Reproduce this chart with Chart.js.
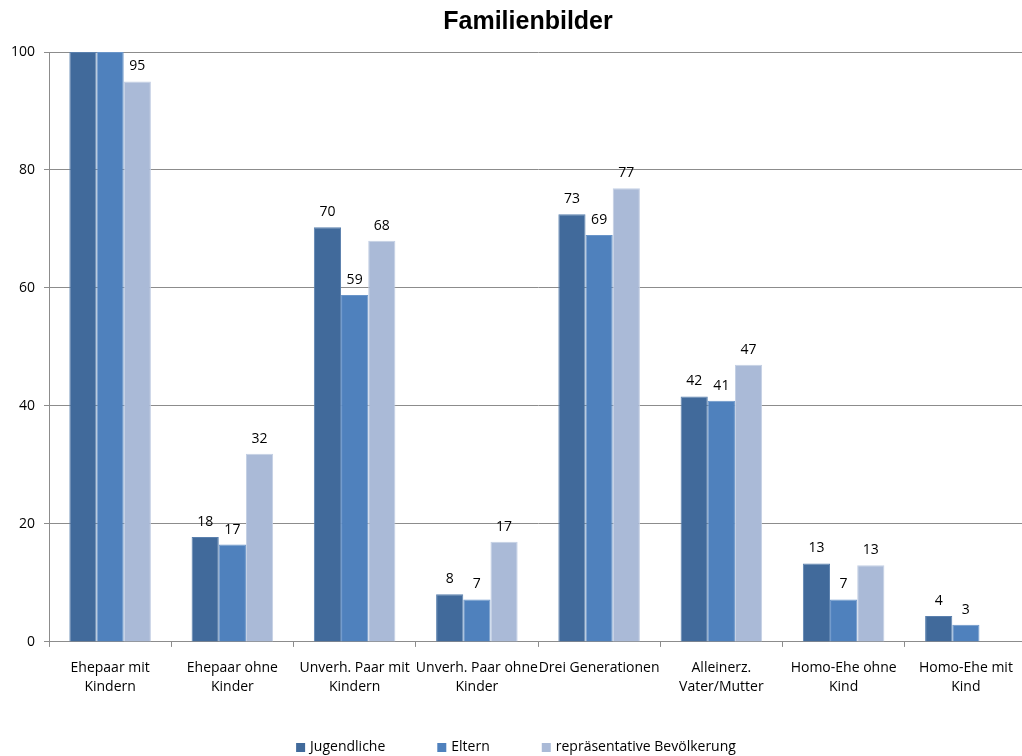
<!doctype html>
<html>

	<head>
		<meta charset="utf-8" />
		<title>Familienbilder</title>

		<style>
			html	{ height: 100% }
			body	{ height: 100%; margin: 0; padding: 0; overflow: hidden; background: #fff }
			canvas	{ display:block; }
		</style>

		<script src="https://cdn.jsdelivr.net/npm/chart.js@4.4.1/dist/chart.umd.min.js"></script>

		<script>

			var categories = [
				['Ehepaar mit', 'Kindern'],
				['Ehepaar ohne', 'Kinder'],
				['Unverh. Paar mit', 'Kindern'],
				['Unverh. Paar ohne', 'Kinder'],
				['Drei Generationen'],
				['Alleinerz.', 'Vater/Mutter'],
				['Homo-Ehe ohne', 'Kind'],
				['Homo-Ehe mit', 'Kind']
			];

			var seriesNames = ['Jugendliche', 'Eltern', 'repräsentative Bevölkerung'];

			var jugendliche = [100, 17.8, 70.3, 8.1, 72.5, 41.6, 13.3, 4.4];
			var eltern = [100, 16.5, 58.8, 7.2, 69.0, 40.9, 7.2, 2.9];
			var bevoelkerung = [95, 31.9, 68.0, 17.0, 76.9, 47.0, 13.0, null];

			var yTicks = [0, 20, 40, 60, 80, 100];

			var labelFont = '14px "Open Sans"';
			var gridColor = '#8c8c8c';

			// value above every bar, rounded like the original sheet
			var valueLabels = {
				id: 'valueLabels',
				afterDatasetsDraw: function(chart) {
					var ctx = chart.ctx;
					ctx.save();
					ctx.font = labelFont;
					ctx.fillStyle = '#000';
					ctx.textAlign = 'center';
					ctx.textBaseline = 'middle';
					chart.data.datasets.forEach(function(ds, i) {
						var meta = chart.getDatasetMeta(i);
						meta.data.forEach(function(bar, j) {
							var v = ds.data[j];
							if (v === null || v === undefined) return;
							var y = bar.y - 15;
							if (y < chart.chartArea.top) return;
							ctx.fillText(Math.round(v), bar.x, y);
						});
					});
					ctx.restore();
				}
			};

			// legend row at the bottom, wide spacing like excel
			var bottomLegend = {
				id: 'bottomLegend',
				afterDraw: function(chart) {
					var ctx = chart.ctx;
					var box = 9, gap = 5, spacing = 52;
					var items = chart.data.datasets;
					ctx.save();
					ctx.font = labelFont;
					ctx.textBaseline = 'middle';
					ctx.textAlign = 'left';
					var total = 0;
					items.forEach(function(ds, i) {
						total += box + gap + ctx.measureText(ds.label).width;
						if (i > 0) total += spacing;
					});
					var x = 516 - total / 2;
					var y = 747;
					items.forEach(function(ds) {
						ctx.fillStyle = ds.backgroundColor;
						ctx.fillRect(x, y - 4, box, box);
						ctx.fillStyle = '#000';
						ctx.fillText(ds.label, x + box + gap, y);
						x += box + gap + ctx.measureText(ds.label).width + spacing;
					});
					ctx.restore();
				}
			};

			// title is centred over the plot, not over the whole canvas
			var titleShift = {
				id: 'titleShift',
				afterLayout: function(chart) {
					if (chart.titleBlock) chart.titleBlock.left = 29;
				}
			};

			function init() {

				var canvas = document.getElementById('canvas');
				canvas.width = 1027;
				canvas.height = 756;

				var series = [jugendliche, eltern, bevoelkerung];
				var colors = ['#416a9b', '#4f81bd', '#aabad7'];
				var edges = ['#5a80ae', '#6a95c9', '#c3cfe4'];

				var datasets = series.map(function(values, i) {
					return {
						label: seriesNames[i],
						data: values,
						backgroundColor: colors[i],
						borderColor: edges[i],
						borderWidth: 1,
						categoryPercentage: 0.667,
						barPercentage: 1.0
					};
				});

				new Chart(canvas.getContext('2d'), {
					type: 'bar',
					data: { labels: categories, datasets: datasets },
					plugins: [valueLabels, bottomLegend, titleShift],
					options: {
						responsive: false,
						animation: false,
						layout: { padding: { left: 0, right: 0, top: 0, bottom: 47 } },
						plugins: {
							legend: { display: false },
							tooltip: { enabled: false },
							title: {
								display: true,
								text: 'Familienbilder',
								color: '#000',
								font: { family: 'Liberation Sans', size: 25, weight: 'bold' },
								padding: { top: 7, bottom: 15 }
							}
						},
						scales: {
							x: {
								grid: {
									display: true,
									drawOnChartArea: false,
									drawTicks: true,
									tickLength: 5,
									color: gridColor,
									offset: true
								},
								border: { display: true, color: gridColor },
								ticks: {
									autoSkip: false,
									maxRotation: 0,
									minRotation: 0,
									padding: 12,
									color: '#000',
									font: { family: 'Open Sans', size: 14, lineHeight: 1.36 }
								}
							},
							y: {
								min: 0,
								max: 100,
								afterBuildTicks: function(scale) {
									scale.ticks = yTicks.map(function(v) { return { value: v }; });
								},
								afterFit: function(scale) {
									scale.width = 49;
								},
								grid: {
									color: gridColor,
									tickLength: 5
								},
								border: { display: true, color: gridColor },
								ticks: {
									padding: 9,
									color: '#000',
									font: { family: 'Open Sans', size: 14 }
								}
							}
						}
					}
				});
			}

		</script>

	</head>

	<body onload="init();">

		<canvas id="canvas"></canvas>

	</body>

</html>
